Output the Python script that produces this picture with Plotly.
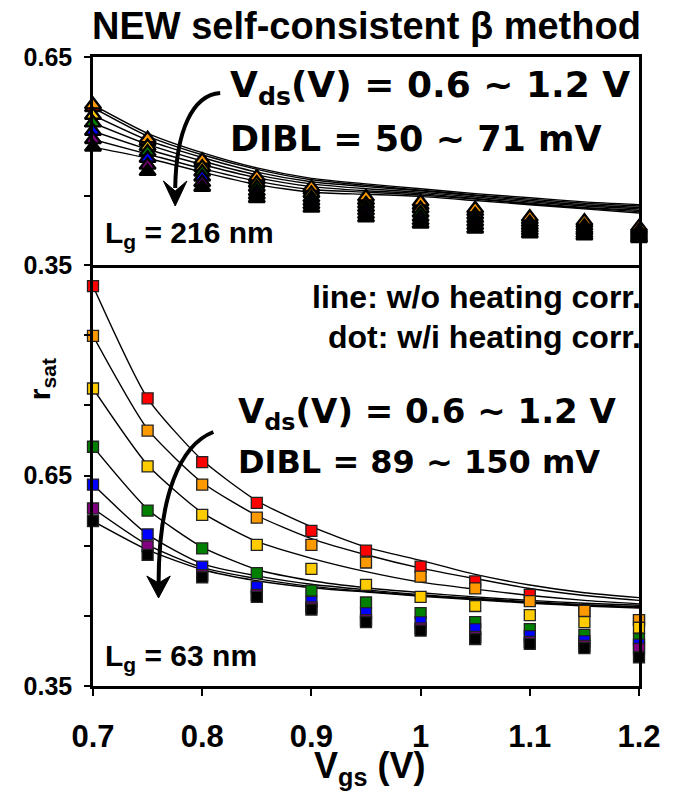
import plotly.graph_objects as go

# Gate voltage sweep (V)
vgs = [0.70, 0.75, 0.80, 0.85, 0.90, 0.95, 1.00, 1.05, 1.10, 1.15, 1.20]

# Drain bias of each series (V) and its colour
vds = ["0.6", "0.7", "0.8", "0.9", "1.0", "1.1", "1.2"]
colors = ["#FF0000", "#FF9900", "#FFCC00", "#008000", "#0000FF", "#800080", "#000000"]

# L_g = 216 nm : r_sat with heating correction (dots)
dot_216 = [
    [0.577, 0.528, 0.497, 0.473, 0.458, 0.443, 0.436, 0.427, 0.415, 0.410, 0.402],
    [0.581, 0.532, 0.501, 0.477, 0.462, 0.448, 0.441, 0.431, 0.419, 0.413, 0.405],
    [0.566, 0.521, 0.491, 0.468, 0.453, 0.438, 0.431, 0.422, 0.411, 0.406, 0.399],
    [0.555, 0.513, 0.484, 0.462, 0.447, 0.433, 0.425, 0.417, 0.407, 0.402, 0.396],
    [0.543, 0.504, 0.477, 0.456, 0.442, 0.428, 0.419, 0.412, 0.403, 0.399, 0.393],
    [0.531, 0.494, 0.469, 0.451, 0.437, 0.423, 0.414, 0.407, 0.399, 0.395, 0.390],
    [0.520, 0.485, 0.462, 0.446, 0.432, 0.418, 0.409, 0.402, 0.395, 0.392, 0.388],
]
# L_g = 216 nm : r_sat without heating correction (lines)
line_216 = [
    [0.577, 0.536, 0.509, 0.488, 0.473, 0.465, 0.458, 0.451, 0.445, 0.439, 0.435],
    [0.581, 0.540, 0.512, 0.490, 0.475, 0.467, 0.460, 0.453, 0.447, 0.441, 0.437],
    [0.566, 0.530, 0.505, 0.484, 0.470, 0.463, 0.457, 0.450, 0.443, 0.437, 0.433],
    [0.555, 0.524, 0.500, 0.480, 0.467, 0.460, 0.455, 0.448, 0.441, 0.435, 0.431],
    [0.543, 0.517, 0.495, 0.476, 0.463, 0.457, 0.453, 0.446, 0.439, 0.433, 0.429],
    [0.531, 0.510, 0.489, 0.471, 0.459, 0.455, 0.451, 0.445, 0.438, 0.432, 0.427],
    [0.520, 0.504, 0.484, 0.466, 0.455, 0.452, 0.449, 0.443, 0.437, 0.431, 0.425],
]
# L_g = 63 nm : r_sat with heating correction (dots)
dot_63 = [
    [0.920, 0.760, 0.669, 0.611, 0.571, 0.543, 0.520, 0.499, 0.480, 0.457, 0.444],
    [0.849, 0.714, 0.637, 0.590, 0.551, 0.526, 0.506, 0.489, 0.471, 0.457, 0.444],
    [0.774, 0.663, 0.594, 0.551, 0.517, 0.494, 0.477, 0.464, 0.451, 0.441, 0.433],
    [0.691, 0.600, 0.546, 0.511, 0.486, 0.469, 0.454, 0.441, 0.431, 0.423, 0.417],
    [0.637, 0.566, 0.520, 0.491, 0.470, 0.454, 0.441, 0.431, 0.421, 0.414, 0.409],
    [0.603, 0.549, 0.508, 0.480, 0.462, 0.444, 0.432, 0.420, 0.413, 0.407, 0.403],
    [0.585, 0.537, 0.505, 0.477, 0.459, 0.441, 0.429, 0.417, 0.410, 0.404, 0.391],
]
# L_g = 63 nm : r_sat without heating correction (lines)
line_63 = [
    [0.920, 0.760, 0.672, 0.614, 0.577, 0.548, 0.529, 0.509, 0.494, 0.483, 0.476],
    [0.849, 0.716, 0.640, 0.593, 0.560, 0.537, 0.518, 0.503, 0.489, 0.479, 0.472],
    [0.774, 0.665, 0.597, 0.556, 0.532, 0.513, 0.498, 0.488, 0.479, 0.472, 0.467],
    [0.691, 0.602, 0.548, 0.516, 0.500, 0.490, 0.483, 0.477, 0.472, 0.468, 0.465],
    [0.637, 0.566, 0.524, 0.507, 0.495, 0.487, 0.480, 0.475, 0.470, 0.466, 0.463],
    [0.603, 0.551, 0.519, 0.503, 0.492, 0.485, 0.479, 0.474, 0.469, 0.465, 0.462],
    [0.585, 0.544, 0.516, 0.500, 0.490, 0.484, 0.478, 0.473, 0.468, 0.464, 0.461],
]

# y tick positions and labels for each panel
top_ticks = [0.35, 0.45, 0.55, 0.65]
top_labels = ["0.35", "", "", "0.65"]
bot_ticks = [0.35, 0.45, 0.55, 0.65, 0.75, 0.85, 0.95]
bot_labels = ["0.35", "", "", "0.65", "", "", ""]
x_ticks = [0.7, 0.8, 0.9, 1.0, 1.1, 1.2]
x_labels = ["0.7", "0.8", "0.9", "1", "1.1", "1.2"]

W, H = 673, 791
ML, MR, MT, MB = 93, 22, 57, 105
PW, PH = W - ML - MR, H - MT - MB
SPLIT = 421 / 629  # share of the plot height taken by the lower panel

FONT = "Liberation Sans, Arial, sans-serif"
WIDE = "DejaVu Sans, Verdana, sans-serif"


def px(x, y):
    """pixel position -> paper coordinates"""
    return (x - ML) / PW, (H - MB - y) / PH


fig = go.Figure()

# lines (without heating correction) drawn beneath the markers
for i in range(len(vds)):
    fig.add_trace(go.Scatter(x=vgs, y=line_216[i], mode="lines", xaxis="x2", yaxis="y",
                             line=dict(color="black", width=1.4, shape="spline", smoothing=0.6),
                             showlegend=False, hoverinfo="skip"))
    fig.add_trace(go.Scatter(x=vgs, y=line_63[i], mode="lines", xaxis="x", yaxis="y2",
                             line=dict(color="black", width=1.4, shape="spline", smoothing=0.6),
                             showlegend=False, hoverinfo="skip"))

for i in range(len(vds)):
    fig.add_trace(go.Scatter(x=vgs, y=dot_216[i], mode="markers", xaxis="x2", yaxis="y",
                             name=f"Vds={vds[i]} V", cliponaxis=False,
                             marker=dict(symbol="triangle-up", size=14, color=colors[i],
                                         line=dict(color="black", width=2.4)),
                             showlegend=False))
for i in range(len(vds)):
    fig.add_trace(go.Scatter(x=vgs, y=dot_63[i], mode="markers", xaxis="x", yaxis="y2",
                             name=f"Vds={vds[i]} V", cliponaxis=False,
                             marker=dict(symbol="square", size=11, color=colors[i],
                                         line=dict(color="#222222", width=1.3)),
                             showlegend=False))

frame = dict(showline=True, linecolor="black", linewidth=2.5, showgrid=False, zeroline=False)

fig.update_layout(
    width=W, height=H,
    margin=dict(l=ML, r=MR, t=MT, b=MB),
    paper_bgcolor="white", plot_bgcolor="white",
    font=dict(family=FONT, color="black"),
    xaxis=dict(domain=[0, 1], anchor="y2", range=[0.7, 1.2], tickvals=x_ticks, ticktext=x_labels,
               ticks="outside", ticklen=7, tickwidth=2, tickcolor="black", mirror=False,
               tickfont=dict(size=31, family=FONT, weight="bold"), ticklabelstandoff=14,
               **frame),
    xaxis2=dict(domain=[0, 1], anchor="y", range=[0.7, 1.2], matches="x", mirror=True,
                showticklabels=False, ticks="", **frame),
    yaxis=dict(domain=[SPLIT, 1], anchor="x2", range=[0.35, 0.65], tickvals=top_ticks,
               ticktext=top_labels, ticks="outside", ticklen=6, tickwidth=2, tickcolor="black",
               tickfont=dict(size=25, family=FONT, weight="bold"), ticklabelstandoff=7,
               mirror=True, **frame),
    yaxis2=dict(domain=[0, SPLIT], anchor="x", range=[0.35, 0.95], tickvals=bot_ticks,
                ticktext=bot_labels, ticks="outside", ticklen=6, tickwidth=2, tickcolor="black",
                tickfont=dict(size=25, family=FONT, weight="bold"), ticklabelstandoff=7,
                mirror=True, **frame),
)


def label(text, x, y, size, xanchor="left", angle=0, family=FONT):
    ax, ay = px(x, y)
    fig.add_annotation(text=text, x=ax, y=ay, xref="paper", yref="paper",
                       xanchor=xanchor, yanchor="middle", showarrow=False,
                       textangle=angle,
                       font=dict(size=size, family=family, color="black", weight="bold"))


label("NEW self-consistent β method", 373, 26, 38, xanchor="center")
label("V<sub>ds</sub>(V) = 0.6 ~ 1.2 V", 231, 87, 36, family=WIDE)
label("DIBL = 50 ~ 71 mV", 231, 139, 35, family=WIDE)
label("L<sub>g</sub> = 216 nm", 103, 234, 30)
label("line: w/o heating corr.", 655, 297, 32, xanchor="right")
label("dot: w/i heating corr.", 655, 337, 32, xanchor="right")
label("V<sub>ds</sub>(V) = 0.6 ~ 1.2 V", 239, 413, 34, family=WIDE)
label("DIBL = 89 ~ 150 mV", 239, 462, 32, family=WIDE)
label("L<sub>g</sub> = 63 nm", 103, 657, 30)
label("r<sub>sat</sub>", 40, 379, 30, xanchor="center", angle=-90)
label("V<sub>gs</sub> (V)", 376, 768, 36, xanchor="center")


def curve(points):
    p = [px(x, y) for x, y in points]
    return "M {},{} C {},{} {},{} {},{}".format(*[c for q in p for c in q])


def head(tip, left, notch, right):
    p = [px(x, y) for x, y in (tip, left, notch, right)]
    return "M {},{} L {},{} L {},{} L {},{} Z".format(*[c for q in p for c in q])


# curved arrows marking the direction of increasing V_ds
for pts, hd in [
    ([(223, 93), (195, 95), (178, 130), (177, 188)],
     [(177, 206), (165, 181), (177, 191), (189, 181)]),
    ([(216, 432), (182, 445), (160, 495), (160, 585)],
     [(160, 598), (148, 576), (160, 583), (172, 576)]),
]:
    fig.add_shape(type="path", path=curve(pts), xref="paper", yref="paper",
                  line=dict(color="black", width=4))
    fig.add_shape(type="path", path=head(*hd), xref="paper", yref="paper",
                  fillcolor="black", line=dict(color="black", width=1))

fig.write_html("out.html")
